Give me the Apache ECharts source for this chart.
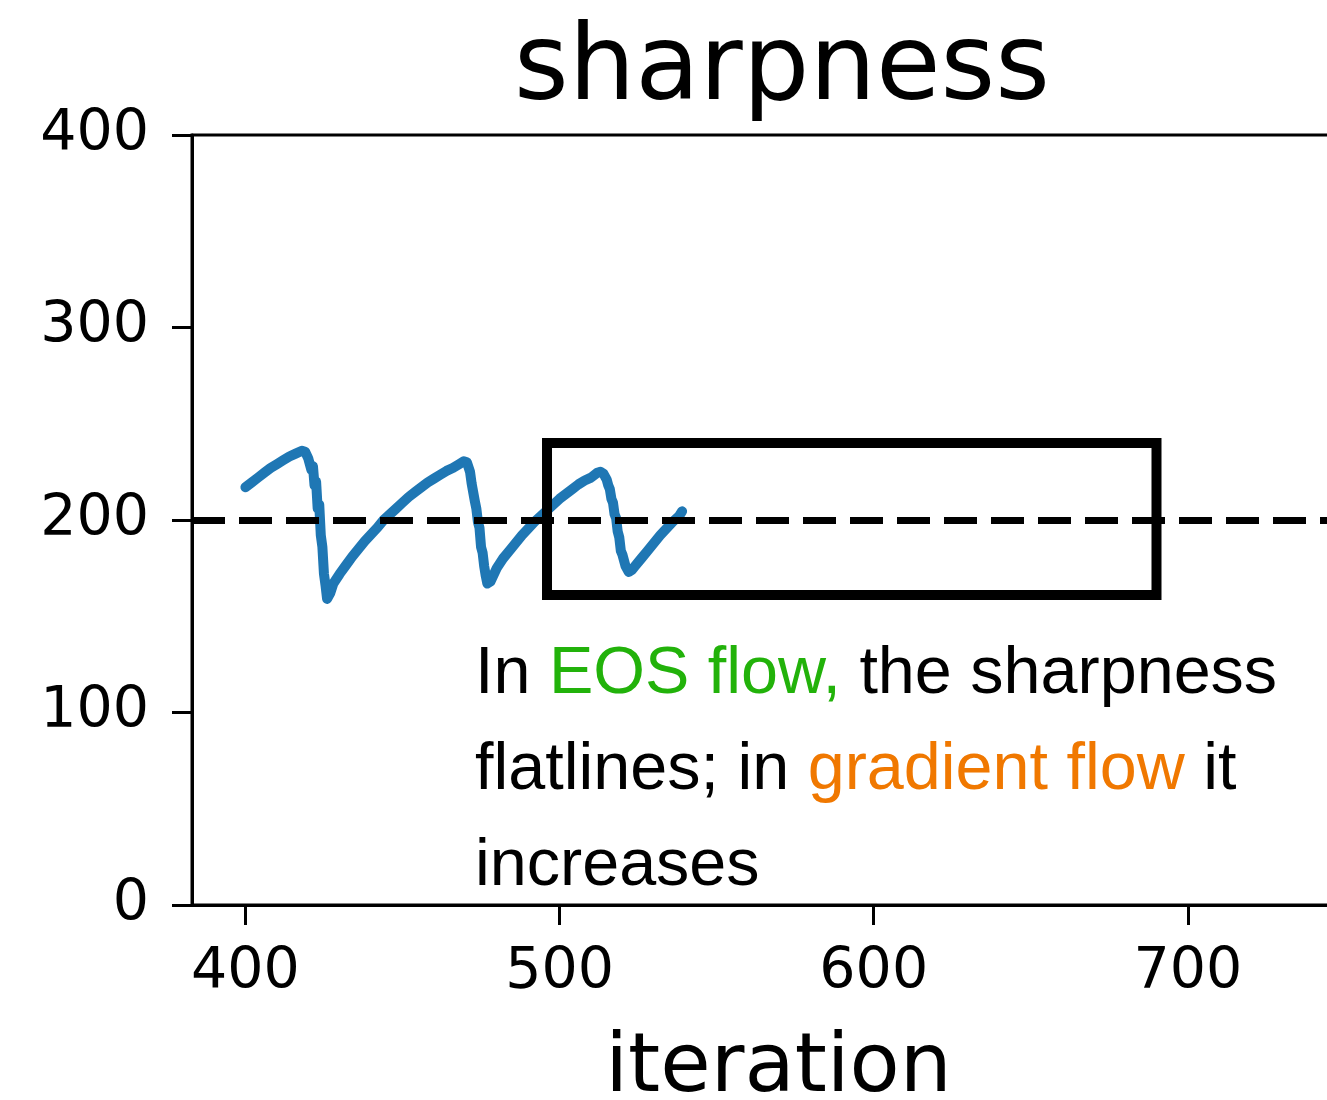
<!DOCTYPE html>
<html>
<head>
<meta charset="utf-8">
<script src="https://cdn.jsdelivr.net/npm/echarts@6/dist/echarts.min.js"></script>
<style>
  html, body { margin: 0; padding: 0; background: #fff; }
  #chart { width: 1327px; height: 1100px; }
</style>
</head>
<body>
<div id="chart"></div>
<script>
// Sharpness over training iterations (oscillates around 2/eta = 200)
const iterations = [
  400, 402, 404, 406, 408, 410, 412, 414, 416, 418, 419,
  420, 421, 421.5, 422, 422.5, 423, 423.5, 424, 424.5, 425, 425.5, 426, 427,
  428, 430, 432, 434, 436, 438, 440, 442, 444, 446, 448, 450, 452, 454, 456,
  458, 460, 462, 464, 466, 468, 469.5, 470.5,
  471.5, 472, 472.5, 473, 473.5, 474, 474.5, 475, 475.5, 476, 476.5, 477, 478,
  480, 482, 484, 486, 488, 490, 492, 494, 496, 498, 500, 502, 504, 506, 508,
  510, 512, 513,
  514, 515, 515.5, 516, 516.5, 517, 517.5, 518, 518.5, 519, 519.5, 520, 521, 522, 523,
  524, 526, 528, 530, 532, 534, 536, 538, 539
];
const sharpness = [
  217, 219.5, 222, 224.5, 227, 229, 231, 233, 234.5, 236, 235.5,
  232, 226, 228, 218, 220, 206, 208, 192, 186, 172, 166, 159, 162,
  167, 172, 176.5, 181, 185, 189, 192.5, 196, 200, 203, 206, 209, 212, 214.5, 217,
  219.5, 221.5, 223.5, 225.5, 227, 229, 230.5, 230,
  225, 219, 220, 210, 206, 199, 196, 186, 183, 176, 171, 167, 168,
  175, 180, 184, 188, 192, 195.5, 199, 202, 205, 208, 211, 213.5, 216, 218.5, 220.5,
  222, 224.5, 225,
  224, 221, 218, 216, 211, 209, 203, 201, 194, 191, 184, 182, 176, 173, 174,
  176, 180, 184, 188, 192, 195.5, 199, 202, 204.5
];

const xTicks = [400, 500, 600, 700];
const yTicks = [0, 100, 200, 300, 400];
const threshold = 200;                 // 2 / eta
const boxX = [496, 690];               // highlighted iteration window
const boxY = [161, 240];               // highlighted sharpness window

const chart = echarts.init(document.getElementById('chart'), null, { renderer: 'canvas' });

const tickFont = { fontFamily: 'DejaVu Sans', fontSize: 57, color: '#000' };

chart.setOption({
  animation: false,
  backgroundColor: '#fff',
  title: {
    text: 'sharpness',
    left: 777,
    top: 14,
    textAlign: 'center',
    textStyle: { fontFamily: 'DejaVu Sans', fontSize: 105, fontWeight: 'normal', color: '#000' }
  },
  grid: {
    left: 192, top: 135, width: 1153, height: 770,
    show: true, borderColor: '#000', borderWidth: 3, backgroundColor: 'transparent',
    outerBoundsMode: 'none'
  },
  xAxis: {
    type: 'value',
    min: 383, max: 750,
    name: 'iteration',
    nameLocation: 'middle',
    nameGap: 124,
    nameTextStyle: { fontFamily: 'DejaVu Sans', fontSize: 82, color: '#000', padding: [0, 0, 0, 20] },
    axisLine: { show: true, lineStyle: { color: '#000', width: 3 } },
    axisTick: { show: true, length: 20, lineStyle: { color: '#000', width: 3 }, customValues: xTicks },
    axisLabel: Object.assign({ margin: 40, customValues: xTicks }, tickFont),
    splitLine: { show: false }
  },
  yAxis: {
    type: 'value',
    min: yTicks[0], max: yTicks[yTicks.length - 1], interval: 100,
    axisLine: { show: true, lineStyle: { color: '#000', width: 3 } },
    axisTick: { show: true, length: 20, lineStyle: { color: '#000', width: 3 } },
    axisLabel: Object.assign({ margin: 43, padding: [12, 0, 0, 0] }, tickFont),
    splitLine: { show: false }
  },
  series: [{
    type: 'line',
    data: iterations.map((it, i) => [it, sharpness[i]]),
    showSymbol: false,
    symbol: 'none',
    lineStyle: { color: '#1f77b4', width: 10, join: 'round', cap: 'round' },
    z: 2,
    markLine: {
      silent: true,
      symbol: ['none', 'none'],
      label: { show: false },
      lineStyle: { color: '#000', width: 7, type: [33, 14] },
      data: [{ yAxis: threshold }],
      z: 5
    },
    markArea: {
      silent: true,
      itemStyle: { color: 'rgba(0,0,0,0)', borderColor: '#000', borderWidth: 10 },
      data: [[{ coord: [boxX[0], boxY[1]] }, { coord: [boxX[1], boxY[0]] }]],
      z: 6
    }
  }],
  graphic: [{
    type: 'text',
    left: 475,
    top: 641,
    z: 10,
    style: {
      text: '{k|In }{g|EOS flow,}{k| the sharpness}\n{k|flatlines; in }{o|gradient flow}{k| it}\n{k|increases}',
      font: '66px "Liberation Sans"',
      rich: {
        k: { fill: '#000', fontFamily: 'Liberation Sans', fontSize: 66.5, lineHeight: 96 },
        g: { fill: '#22b20a', fontFamily: 'Liberation Sans', fontSize: 66.5, lineHeight: 96 },
        o: { fill: '#f07800', fontFamily: 'Liberation Sans', fontSize: 66.5, lineHeight: 96 }
      }
    }
  }]
});
</script>
</body>
</html>
